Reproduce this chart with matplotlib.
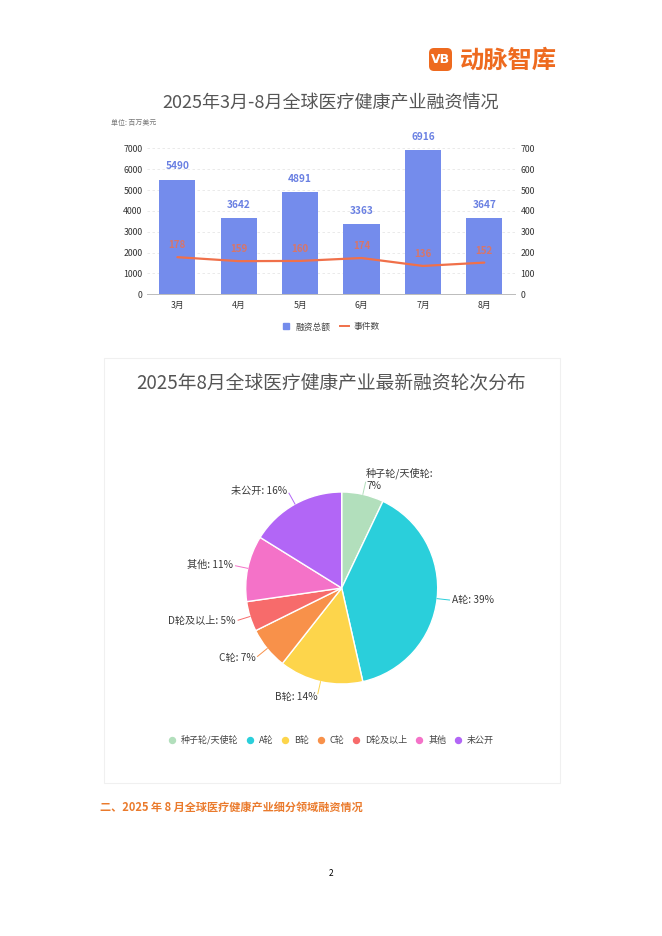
import numpy as np
import matplotlib
matplotlib.use("Agg")
import matplotlib.pyplot as plt
from matplotlib.patches import FancyBboxPatch, Rectangle
from matplotlib.lines import Line2D

plt.rcParams['font.family'] = ['Noto Sans CJK SC', 'DejaVu Sans']

# bar + line chart data
months = ['3月', '4月', '5月', '6月', '7月', '8月']
amount = [5490, 3642, 4891, 3363, 6916, 3647]   # 融资总额 (百万美元)
events = [178, 159, 160, 174, 136, 152]         # 事件数

# pie data
rounds = ['种子轮/天使轮', 'A轮', 'B轮', 'C轮', 'D轮及以上', '其他', '未公开']
shares = [7, 39, 14, 7, 5, 11, 16]
pie_colors = ['#B2DFBC', '#2ACFDB', '#FDD54B', '#F8914A', '#F76B6B', '#F472C8', '#B266F6']

W, H = 662, 936
fig = plt.figure(figsize=(W / 100, H / 100), dpi=100)
fig.patch.set_facecolor('white')

def px(x, y):
    return x / W, 1 - y / H

# logo
ax_logo = fig.add_axes([0, 0, 1, 1], zorder=-5)
ax_logo.set_xlim(0, W)
ax_logo.set_ylim(H, 0)
ax_logo.axis('off')
ax_logo.add_patch(FancyBboxPatch((429, 48), 23, 23, boxstyle='round,pad=0,rounding_size=5',
                                 fc='#EE6A1F', ec='none'))
ax_logo.text(440.5, 59.5, 'VB', color='white', fontsize=9, fontweight='bold',
             ha='center', va='center', family=['DejaVu Sans'])
ax_logo.text(460, 61, '动脉智库', color='#EE6A1F', fontsize=17.5, fontweight='bold',
             ha='left', va='center')
# faint panel behind the pie chart
ax_logo.add_patch(Rectangle((104, 358), 456, 425, fc='none', ec='#F0F0F0', lw=0.8))

# titles and texts
fig.text(*px(331, 103), '2025年3月-8月全球医疗健康产业融资情况', fontsize=13, color='#555555',
         ha='center', va='center')
fig.text(*px(111, 123), '单位: 百万美元', fontsize=5, color='#777777', ha='left', va='center')
fig.text(*px(331, 383), '2025年8月全球医疗健康产业最新融资轮次分布', fontsize=13.5, color='#555555',
         ha='center', va='center')
fig.text(*px(100, 807), '二、2025 年 8 月全球医疗健康产业细分领域融资情况', fontsize=8,
         color='#EA7A2C', fontweight='bold', ha='left', va='center')
fig.text(*px(331, 873), '2', fontsize=6, color='black', ha='center', va='center')

# bar chart
x0, x1, ytop, ybot = 146.7, 515, 148.3, 294.3
ax = fig.add_axes([x0 / W, 1 - ybot / H, (x1 - x0) / W, (ybot - ytop) / H])
x = np.arange(len(months))
bar_c = '#748CEC'
line_c = '#F0704A'
ax.bar(x, amount, width=0.59, color=bar_c, zorder=2)
ax.set_xlim(-0.5, len(months) - 0.5)
ax.set_ylim(0, 7000)
ax.set_yticks(np.arange(0, 7001, 1000))
ax.set_xticks(x)
ax.set_xticklabels(months)
ax.grid(axis='y', color='#E6E6E6', ls=(0, (3, 3)), lw=0.6, zorder=0)
for s in ['top', 'right', 'left']:
    ax.spines[s].set_visible(False)
ax.spines['bottom'].set_color('#BBBBBB')
ax.spines['bottom'].set_linewidth(0.7)
ax.tick_params(axis='both', labelsize=6.3, colors='#333333', length=0, pad=3)
ax.tick_params(axis='x', pad=5)
for xi, v in zip(x, amount):
    ax.annotate(str(v), (xi, v), xytext=(0, 6), textcoords='offset points', ha='center',
                va='bottom', fontsize=7.3, fontweight='bold', color='#6A80E2')

ax2 = ax.twinx()
ax2.set_ylim(0, 700)
ax2.set_yticks(np.arange(0, 701, 100))
for s in ['top', 'right', 'left', 'bottom']:
    ax2.spines[s].set_visible(False)
ax2.tick_params(axis='y', labelsize=6.3, colors='#333333', length=0, pad=4)
ax2.plot(x, events, color=line_c, lw=1.6, zorder=3, solid_capstyle='round')
for xi, v in zip(x, events):
    ax2.annotate(str(v), (xi, v), xytext=(0, 5), textcoords='offset points', ha='center',
                 va='bottom', fontsize=7, fontweight='bold', color=line_c, alpha=0.8)

handles = [Line2D([], [], marker='s', ls='none', color=bar_c, markersize=5),
           Line2D([], [], color=line_c, lw=1.4)]
fig.legend(handles, ['融资总额', '事件数'], loc='center', bbox_to_anchor=px(331, 327),
           ncol=2, frameon=False, fontsize=6.3, handlelength=1.0, handletextpad=0.6,
           columnspacing=1.0, labelcolor='#444444')

# pie chart
cx, cy, r = 341.7, 588, 96
half = 150
axp = fig.add_axes([(cx - half) / W, 1 - (cy + half) / H, 2 * half / W, 2 * half / H])
labels = [f'{n}:\n{v}%' if n == '种子轮/天使轮' else f'{n}: {v}%' for n, v in zip(rounds, shares)]
wedges, texts = axp.pie(shares, colors=pie_colors, startangle=90, counterclock=False,
                        labels=labels, labeldistance=1.16,
                        wedgeprops=dict(edgecolor='white', linewidth=1.0),
                        textprops=dict(fontsize=7.3, color='#3A3A3A'))
lim = half / r
axp.set_xlim(-lim, lim)
axp.set_ylim(-lim, lim)
axp.set_aspect('equal')
axp.axis('off')
for t in texts:
    if '\n' in t.get_text():
        t.set_multialignment('left')
for w in wedges:
    ang = np.deg2rad((w.theta1 + w.theta2) / 2)
    axp.plot([1.0 * np.cos(ang), 1.13 * np.cos(ang)], [1.0 * np.sin(ang), 1.13 * np.sin(ang)],
             color=w.get_facecolor(), lw=0.7)

handles = [Line2D([], [], marker='o', ls='none', color=c, markersize=4.3) for c in pie_colors]
fig.legend(handles, rounds, loc='center', bbox_to_anchor=px(331, 740), ncol=7, frameon=False,
           fontsize=6.5, handlelength=0.8, handletextpad=0.6, columnspacing=0.9,
           labelcolor='#444444')

fig.savefig('out.png', dpi=100, facecolor='white')
